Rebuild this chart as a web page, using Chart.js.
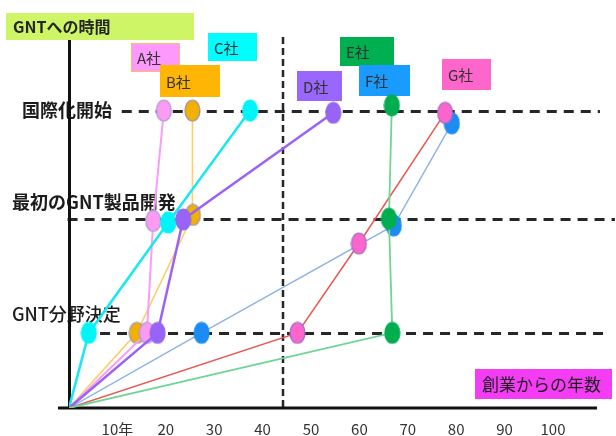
<!DOCTYPE html>
<html>
<head>
<meta charset="utf-8">
<script src="https://cdn.jsdelivr.net/npm/chart.js@4/dist/chart.umd.min.js"></script>
<style>
  html, body { margin: 0; padding: 0; background: #ffffff; }
  canvas { display: block; }
</style>
</head>
<body>
<canvas id="chart" width="616" height="436"></canvas>
<script>
// ---- data ----
const companies = ['A社', 'B社', 'C社', 'D社', 'E社', 'F社', 'G社'];
const stageNames = ['GNT分野決定', '最初のGNT製品開発', '国際化開始'];
const stageLevels = [1, 2.52, 3.96];
const xTickValues = [10, 20, 30, 40, 50, 60, 70, 80, 90, 100];
const dividerYear = 44.2;

// years since founding when each stage was reached
const yearsA = [16.1, 17.4, 19.6];
const yearsB = [14.0, 25.6, 25.5];
const yearsC = [4.1, 20.5, 37.4];
const yearsD = [18.3, 23.6, 54.6];
const yearsE = [66.8, 66.1, 66.7];
const yearsF = [27.4, 67.1, 79.1];
const yearsG = [47.2, 59.9, 77.7];

// height of each company's marks on the stage axis
const levelsA = [1, 2.49, 3.96];
const levelsB = [1, 2.57, 3.96];
const levelsC = [1, 2.47, 3.96];
const levelsD = [1, 2.51, 3.93];
const levelsE = [1, 2.52, 4.03];
const levelsF = [1, 2.43, 3.79];
const levelsG = [1, 2.19, 3.93];

const allYears = [yearsA, yearsB, yearsC, yearsD, yearsE, yearsF, yearsG];
const allLevels = [levelsA, levelsB, levelsC, levelsD, levelsE, levelsF, levelsG];

// ---- styles ----
const lineColors   = ['#fb9cf6', '#ffcd6a', '#18e8f2', '#9a63f8', '#6fd497', '#8fb4e3', '#e9564f'];
const lineWidths   = [2, 1.6, 2.5, 2.5, 1.8, 1.5, 1.5];
const markerFills  = ['#fb9cf2', '#f2b100', '#00f4f8', '#9a63f8', '#00ad4f', '#1c8cf5', '#fc66cc'];
const markerEdges  = ['#a99ad8', '#9b93b0', '#00f4f8', '#8b6fe2', '#00ad4f', '#1c8cf5', '#9b6bd2'];
const drawOrder    = [4, 6, 3, 2, 0, 5, 1];   // lower value is painted on top

const tagFills = ['#fd99fd', '#ffb503', '#00fefe', '#9966fe', '#00b050', '#1a9bff', '#ff66cc'];
const tagBoxes = [
  [131, 43, 49, 29], [160, 65, 60, 32], [208, 33, 49, 28], [297, 71, 45, 30],
  [340, 37, 54, 29], [359, 65, 51, 31], [442, 59, 49, 31]
];

const JP = '"Noto Sans CJK JP", "Noto Sans", sans-serif';

// vertical ellipse used as a marker
function ellipseMarker(fill, edge) {
  const w = 15, h = 21;
  const c = document.createElement('canvas');
  c.width = w + 2; c.height = h + 2;
  const g = c.getContext('2d');
  g.beginPath();
  g.ellipse(c.width / 2, c.height / 2, w / 2, h / 2, 0, 0, Math.PI * 2);
  g.fillStyle = fill;
  g.fill();
  g.lineWidth = 1.2;
  g.strokeStyle = edge;
  g.stroke();
  return c;
}

const datasets = companies.map((name, i) => {
  const pts = [{ x: 0, y: 0 }];
  allYears[i].forEach((yr, k) => pts.push({ x: yr, y: allLevels[i][k] }));
  return {
    label: name,
    data: pts,
    borderColor: lineColors[i],
    borderWidth: lineWidths[i],
    tension: 0,
    fill: false,
    order: drawOrder[i],
    pointStyle: ellipseMarker(markerFills[i], markerEdges[i]),
    pointRadius: (ctx) => (ctx.dataIndex === 0 ? 0 : 10),
    pointHoverRadius: (ctx) => (ctx.dataIndex === 0 ? 0 : 10)
  };
});

// stage guide lines (start/end in years) and their labels
const stageLineFrom = [2.9, -0.3, 10.9];
const stageLineTo = [111, 112.8, 109.7];
const stageLabelX = [12, 12, 22];
const stageLabelDy = [-19, -17, 0];
const stageLabelWeight = ['500', 'bold', 'bold'];

const decor = {
  id: 'decor',
  beforeDatasetsDraw(chart) {
    const { ctx, scales: { x, y } } = chart;
    ctx.save();

    // title tags
    ctx.fillStyle = '#cdf565';
    ctx.fillRect(6, 13, 188, 27);
    ctx.fillStyle = '#262626';
    ctx.font = 'bold 16px ' + JP;
    ctx.textBaseline = 'middle';
    ctx.textAlign = 'left';
    ctx.fillText('GNTへの時間', 13, 27);

    ctx.fillStyle = '#f53cf5';
    ctx.fillRect(475, 369, 137, 30);
    ctx.fillStyle = '#1e1e1e';
    ctx.font = '17px ' + JP;
    ctx.fillText('創業からの年数', 482, 385);

    // company tags
    companies.forEach((name, i) => {
      const [bx, by, bw, bh] = tagBoxes[i];
      ctx.fillStyle = tagFills[i];
      ctx.fillRect(bx, by, bw, bh);
      if (i === 0) {
        ctx.strokeStyle = '#f7c060';
        ctx.lineWidth = 1;
        ctx.strokeRect(bx + 0.5, by + 0.5, bw - 1, bh - 1);
      }
      ctx.fillStyle = '#333333';
      ctx.font = '15px ' + JP;
      ctx.fillText(name, bx + 6, by + bh / 2 + 1);
    });

    // stage labels
    stageNames.forEach((s, i) => {
      ctx.fillStyle = '#1c1c1c';
      ctx.font = stageLabelWeight[i] + ' 18px ' + JP;
      ctx.fillText(s, stageLabelX[i], y.getPixelForValue(stageLevels[i]) + stageLabelDy[i]);
    });

    // stage guide lines
    ctx.strokeStyle = '#262626';
    ctx.lineWidth = 3;
    ctx.setLineDash([10, 7]);
    stageLevels.forEach((lv, i) => {
      const py = Math.round(y.getPixelForValue(lv)) + 0.5;
      ctx.beginPath();
      ctx.moveTo(x.getPixelForValue(stageLineFrom[i]), py);
      ctx.lineTo(x.getPixelForValue(stageLineTo[i]), py);
      ctx.stroke();
    });

    // divider
    ctx.lineWidth = 2.5;
    ctx.setLineDash([7, 4]);
    const dx = Math.round(x.getPixelForValue(dividerYear));
    ctx.beginPath();
    ctx.moveTo(dx, 37);
    ctx.lineTo(dx, y.getPixelForValue(0));
    ctx.stroke();

    // axes
    ctx.setLineDash([]);
    ctx.strokeStyle = '#111111';
    ctx.lineWidth = 3;
    const ox = x.getPixelForValue(0) + 0.5;
    const oy = y.getPixelForValue(0);
    ctx.beginPath();
    ctx.moveTo(ox, 40);
    ctx.lineTo(ox, oy + 1);
    ctx.moveTo(58, oy);
    ctx.lineTo(597, oy);
    ctx.stroke();

    ctx.restore();
  }
};

new Chart(document.getElementById('chart'), {
  type: 'line',
  data: { datasets },
  plugins: [decor],
  options: {
    responsive: false,
    animation: false,
    devicePixelRatio: 1,
    layout: { padding: { left: 69, right: 14.6, top: 40, bottom: 0 } },
    plugins: { legend: { display: false }, tooltip: { enabled: false } },
    scales: {
      x: {
        type: 'linear',
        min: 0,
        max: 110,
        grid: { display: false, drawTicks: false },
        border: { display: false },
        afterFit: (scale) => { scale.height = 28; },
        afterBuildTicks: (scale) => { scale.ticks = xTickValues.map(v => ({ value: v })); },
        ticks: {
          autoSkip: false,
          maxRotation: 0,
          padding: 12,
          color: '#333333',
          font: { family: JP, size: 15 },
          callback: (v) => (v === 10 ? '10年' : String(v))
        }
      },
      y: {
        type: 'linear',
        display: false,
        min: 0,
        max: 4.9
      }
    }
  }
});
</script>
</body>
</html>
